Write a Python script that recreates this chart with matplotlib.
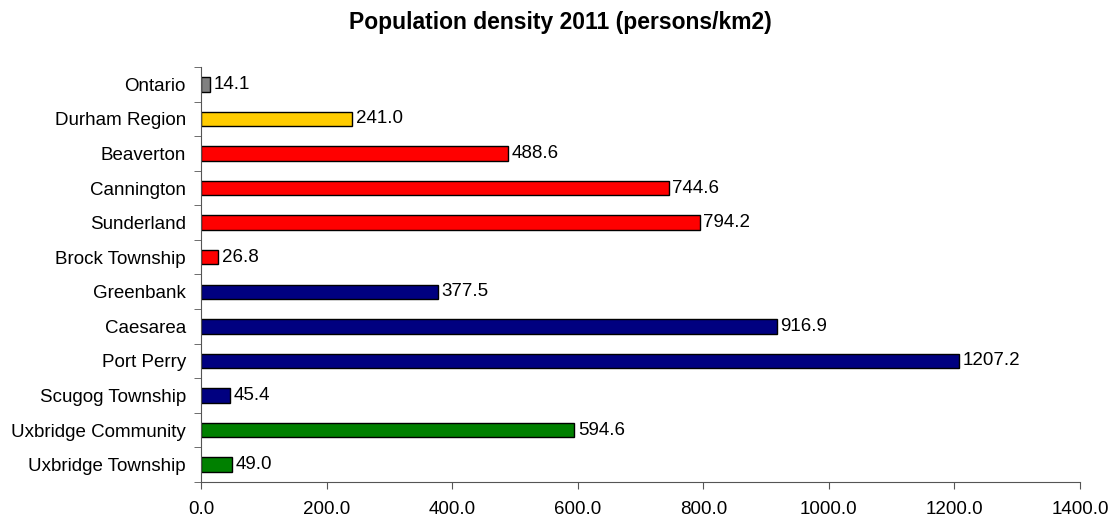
import matplotlib.pyplot as plt

plt.rcParams['font.family'] = ['Liberation Sans', 'DejaVu Sans']

# Data (top to bottom)
places = ['Ontario', 'Durham Region', 'Beaverton', 'Cannington', 'Sunderland',
          'Brock Township', 'Greenbank', 'Caesarea', 'Port Perry',
          'Scugog Township', 'Uxbridge Community', 'Uxbridge Township']
density = [14.1, 241.0, 488.6, 744.6, 794.2, 26.8, 377.5, 916.9, 1207.2,
           45.4, 594.6, 49.0]
colors = ['#808080', '#FFCC00', '#FF0000', '#FF0000', '#FF0000', '#FF0000',
          '#000080', '#000080', '#000080', '#000080', '#008000', '#008000']
xticks = [0, 200, 400, 600, 800, 1000, 1200, 1400]

fs = 13.5

fig = plt.figure(figsize=(11.12, 5.21), dpi=100)
ax = fig.add_axes([0.1808, 0.0749, 0.7904, 0.7965])

ypos = list(range(len(places)))[::-1]
bars = ax.barh(ypos, density, height=0.42, color=colors,
               edgecolor='black', linewidth=1)

for b, v in zip(bars, density):
    ax.text(v + 6, b.get_y() + b.get_height() / 2, f'{v:.1f}',
            va='center', ha='left', fontsize=fs)

ax.set_xlim(0, 1400)
ax.set_ylim(-0.5, len(places) - 0.5)
ax.set_xticks(xticks)
ax.set_xticklabels([f'{t:.1f}' for t in xticks], fontsize=fs)

# category labels centred, tick marks on the boundaries
ax.set_yticks(ypos)
ax.set_yticklabels(places, fontsize=fs)
ax.tick_params(axis='y', length=0, pad=11)
ax.set_yticks([i - 0.5 for i in range(len(places) + 1)], minor=True)
ax.tick_params(axis='y', which='minor', length=5, color='#555555')
ax.tick_params(axis='x', length=5, color='#555555', pad=9)

for s in ['top', 'right']:
    ax.spines[s].set_visible(False)
for s in ['left', 'bottom']:
    ax.spines[s].set_color('#555555')

fig.text(0.504, 1 - 29 / 521, 'Population density 2011 (persons/km2)',
         fontsize=16.5, fontweight='bold', ha='center', va='baseline')

fig.savefig('out.png', dpi=100)
